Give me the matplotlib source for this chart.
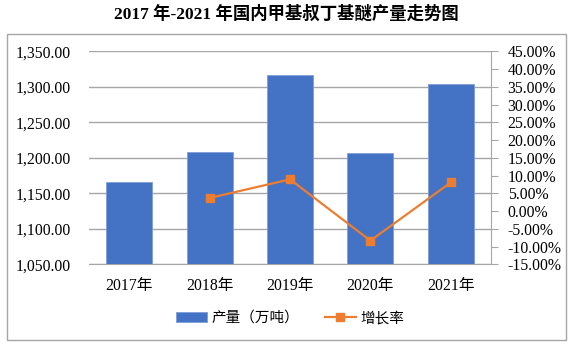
"""
2017-2021 domestic MTBE output (bars) and growth rate (line), dual axis.
"""

import numpy as np
import matplotlib
matplotlib.use("Agg")
import matplotlib.pyplot as plt
from matplotlib.patches import Rectangle
from matplotlib.ticker import FuncFormatter

# values
years = ["2017年", "2018年", "2019年", "2020年", "2021年"]
output = [1165.6, 1208.5, 1316.4, 1206.6, 1303.8]       # 万吨
growth = [np.nan, 0.0368, 0.0893, -0.0834, 0.0806]       # fraction
left_ticks = [1050, 1100, 1150, 1200, 1250, 1300, 1350]
right_ticks = [-0.15, -0.10, -0.05, 0.0, 0.05, 0.10, 0.15, 0.20, 0.25, 0.30, 0.35, 0.40, 0.45]

FONT = ["Liberation Serif", "Noto Sans CJK SC"]
BLUE = "#4472C4"
ORANGE = "#ED7D31"
GRID = "#A6A6A6"

plt.rcParams["font.family"] = FONT

fig = plt.figure(figsize=(5.73, 3.44), dpi=100)
W, H = 573, 344
# plot area in pixels: x 89..491, y 51..264
ax = fig.add_axes([89 / W, 1 - 264.3 / H, 402 / W, 213 / H])
ax2 = ax.twinx()

x = np.arange(len(years))
ax.bar(x, output, width=0.57, color=BLUE, edgecolor="#7F9ED6", linewidth=0.6, zorder=3,
       label="产量（万吨）")
ax.set_ylim(1050, 1350)
ax.set_xlim(-0.5, len(years) - 0.5)
ax.set_yticks(left_ticks)
ax.yaxis.set_major_formatter(FuncFormatter(lambda v, p: f"{v:,.2f}"))
ax.grid(axis="y", color=GRID, linewidth=1, zorder=0)
ax.set_axisbelow(True)
ax.set_xticks(x)
ax.set_xticklabels(years, fontsize=11.3)
ax.tick_params(axis="x", length=0, pad=10)
ax.tick_params(axis="y", length=0, pad=13, labelsize=11.3)
for side in ["top", "left", "right"]:
    ax.spines[side].set_visible(False)
ax.spines["bottom"].set_color(GRID)

ax2.plot(x, growth, color=ORANGE, linewidth=1.6, marker="s", markersize=5.5, zorder=4,
         label="增长率")
ax2.set_ylim(-0.15, 0.45)
ax2.set_yticks(right_ticks)
ax2.yaxis.set_major_formatter(FuncFormatter(lambda v, p: f"{v * 100:.2f}%"))
ax2.tick_params(axis="y", length=5, color=GRID, pad=7, labelsize=11.3)
for side in ["top", "left", "bottom"]:
    ax2.spines[side].set_visible(False)
ax2.spines["right"].set_color(GRID)

# title and legend
fig.text(286 / W, 1 - 14 / H, "2017 年-2021 年国内甲基叔丁基醚产量走势图",
         ha="center", va="center", fontsize=12.5, fontweight="bold", family=FONT)
handles = ax.get_legend_handles_labels()[0] + ax2.get_legend_handles_labels()[0]
labels = ["产量（万吨）", "增长率"]
fig.legend(handles, labels, loc="center", bbox_to_anchor=(290 / W, 1 - 318 / H), ncol=2,
           frameon=False, prop={"family": FONT, "size": 10.5}, handlelength=2.1,
           handletextpad=0.3, columnspacing=1.8)

# outer chart border
fig.patches.append(Rectangle((7 / W, 1 - 340 / H), 559 / W, 306 / H, transform=fig.transFigure,
                             fill=False, edgecolor=GRID, linewidth=1))

fig.savefig("out.png", dpi=100)
